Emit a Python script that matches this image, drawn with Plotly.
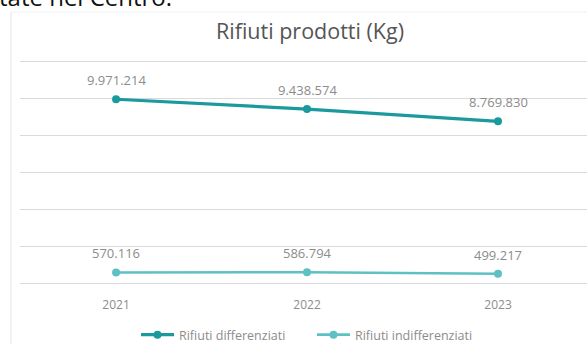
import plotly.graph_objects as go

# Waste produced per year (kg)
years = ["2021", "2022", "2023"]
differenziati = [9971214, 9438574, 8769830]
indifferenziati = [570116, 586794, 499217]
series_names = ["Rifiuti differenziati", "Rifiuti indifferenziati"]
chart_title = "Rifiuti prodotti (Kg)"
heading_tail = "tate nel Centro."

W, H = 587, 344
L, R, T, B = 20, 0, 60, 61
PW, PH = W - L - R, H - T - B

LABEL_GRAY = "#8c8c8c"


def it_fmt(v):
    return f"{v:,}".replace(",", ".")


fig = go.Figure()
annotations = []
for name, vals, col, lw in [
    (series_names[0], differenziati, "#1a9a9c", 3.2),
    (series_names[1], indifferenziati, "#5fc0c4", 2.6),
]:
    fig.add_trace(go.Scatter(
        x=years, y=vals, name=name, mode="lines+markers",
        line=dict(color=col, width=lw),
        marker=dict(color=col, size=8),
        cliponaxis=False,
    ))
    # value labels sit a fixed distance above each point (category index on x)
    for i, v in enumerate(vals):
        annotations.append(dict(
            x=i, y=v, xref="x", yref="y", text=it_fmt(v), showarrow=False,
            yanchor="middle", yshift=19,
            font=dict(family="Open Sans", size=13, color=LABEL_GRAY)))

annotations += [
    dict(text=chart_title, xref="paper", yref="paper", x=(310 - L) / PW,
         y=1, yanchor="middle", yshift=T - 30, showarrow=False,
         font=dict(family="Open Sans", size=21.5, color="#555555")),
    dict(text=heading_tail, xref="paper", yref="paper", x=(-3 - L) / PW,
         xanchor="left", y=1, yanchor="middle", yshift=T + 4, showarrow=False,
         font=dict(family="Open Sans", size=24, color="#111111")),
]

fig.update_layout(
    width=W, height=H,
    margin=dict(l=L, r=R, t=T, b=B, autoexpand=False),
    paper_bgcolor="white", plot_bgcolor="white",
    font=dict(family="Open Sans", color=LABEL_GRAY),
    showlegend=True,
    legend=dict(orientation="h", x=(312 - L) / PW, xanchor="center",
                y=(H - B - 335) / PH, yanchor="middle",
                font=dict(size=12.5, color=LABEL_GRAY), itemwidth=33,
                entrywidth=128, bgcolor="rgba(0,0,0,0)"),
    xaxis=dict(type="category", categoryorder="array", categoryarray=years,
               range=[-0.503, 2.466], showgrid=False, zeroline=False, showline=False,
               ticks="", tickfont=dict(size=12, color=LABEL_GRAY), ticklabelstandoff=13),
    yaxis=dict(range=[0, 12100000], dtick=2000000, showticklabels=False,
               gridcolor="#dadada", gridwidth=1.2, zeroline=True,
               zerolinecolor="#dadada", zerolinewidth=1.2, showline=False),
    annotations=annotations,
    shapes=[
        dict(type="line", xref="paper", yref="paper",
             x0=(11 - L) / PW, x1=(11 - L) / PW,
             y0=(H - B - 344) / PH, y1=(H - B - 12) / PH,
             line=dict(color="#e8e8e8", width=1.2)),
        dict(type="line", xref="paper", yref="paper",
             x0=(11 - L) / PW, x1=1,
             y0=(H - B - 12) / PH, y1=(H - B - 12) / PH,
             line=dict(color="#f0f0f0", width=1)),
    ],
)

fig.write_html("out.html")
